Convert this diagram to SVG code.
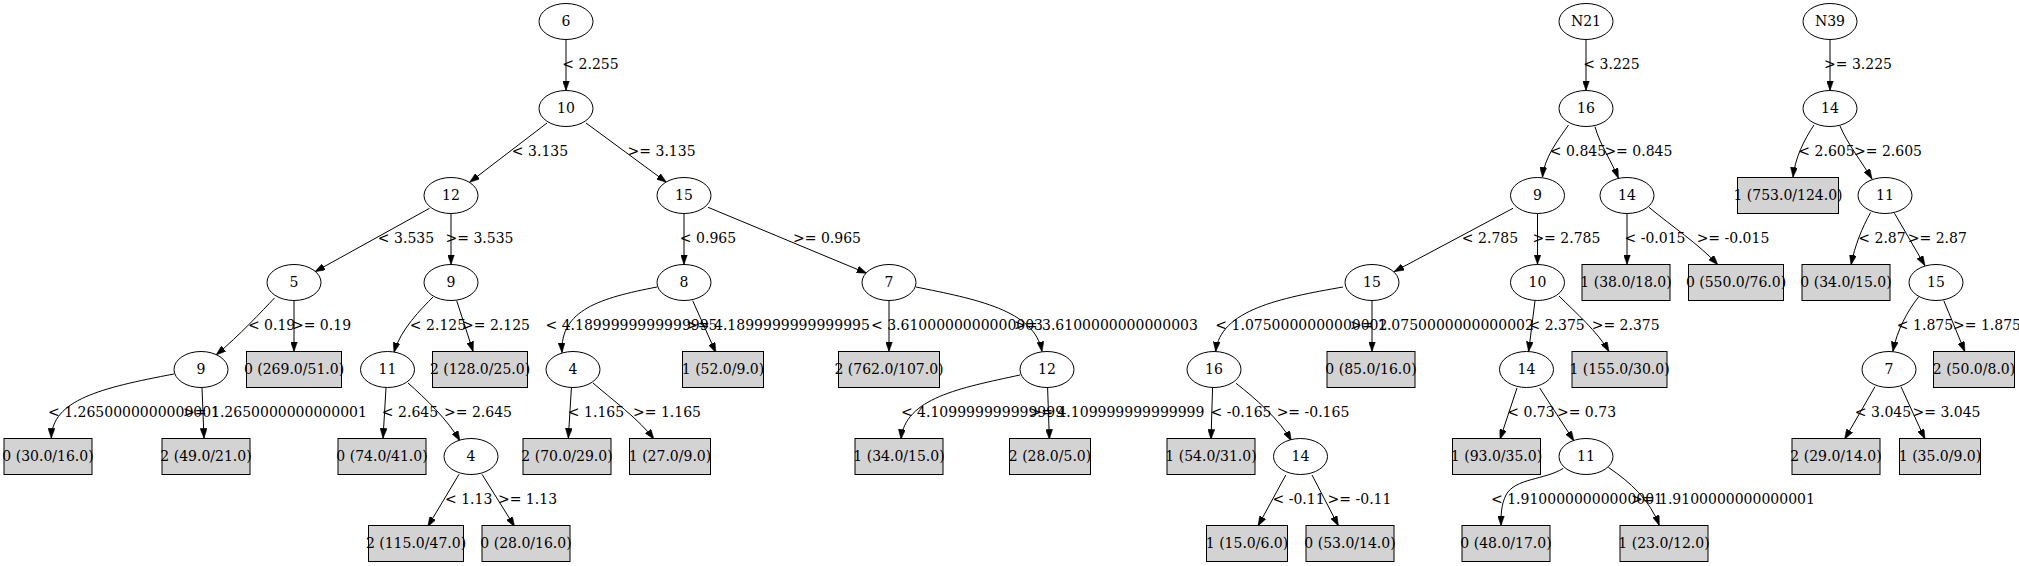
<svg xmlns="http://www.w3.org/2000/svg" width="2019" height="566" viewBox="0 0 2019 566">
<style>
text{font-family:"DejaVu Serif","Liberation Serif",serif;font-size:14px;fill:#000}
.nd text,.lf text{text-anchor:middle}
.nd ellipse{fill:#fff;stroke:#000;stroke-width:1}
.lf rect{fill:#d3d3d3;stroke:#000;stroke-width:1}
#edges path{fill:none;stroke:#000;stroke-width:1;marker-end:url(#ah)}
#labels text{text-anchor:middle}
</style>
<defs>
<marker id="ah" markerUnits="userSpaceOnUse" markerWidth="10" markerHeight="7" refX="10" refY="3.5" orient="auto">
<path d="M0,0 L10,3.5 L0,7 z" fill="#000" stroke="#000" stroke-width="0.5"/>
</marker>
</defs>
<rect width="2019" height="566" fill="#fff"/>
<g id="edges">
<path d="M566,39.5 L566,90.5"/>
<path d="M547,123 L469.6,182.3"/>
<path d="M586,123 L666.5,182.3"/>
<path d="M429.5,208.3 L315,271.7"/>
<path d="M451,213.5 L451,264.5"/>
<path d="M684,213.5 L684,264.5"/>
<path d="M708,207.3 L866.8,273.3"/>
<path d="M274.5,298 C262,311 240,335 216,355"/>
<path d="M294,300.5 L294,351.5"/>
<path d="M433,297 C422,308 400,330 394,352.5"/>
<path d="M456.7,300.7 L473.2,351.7"/>
<path d="M657,287 C600,298 560,310 562,352.7"/>
<path d="M692.7,300.7 L715.9,352.7"/>
<path d="M889,300.5 L889,351.5"/>
<path d="M916,287 C975,299 1035,310 1042,351.7"/>
<path d="M174,374 C100,388 52,400 51.3,438.3"/>
<path d="M202,388 L204,438.3"/>
<path d="M386,388 L383,438.3"/>
<path d="M408,383 C425,398 448,420 460,441"/>
<path d="M571.4,388 L568.3,438.3"/>
<path d="M593,383 C610,398 640,420 654,439.3"/>
<path d="M1020,375 C960,388 905,398 901,439.3"/>
<path d="M1047.6,388 L1049.4,439.3"/>
<path d="M459,474.3 L427.7,526.7"/>
<path d="M482,474.3 L514.7,526.7"/>
<path d="M1586,39.5 L1586,90.5"/>
<path d="M1568.5,125 C1558,140 1544,158 1542.5,177.3"/>
<path d="M1595,126.7 C1600,145 1612,162 1618.4,178.3"/>
<path d="M1513,208.3 L1394,271.7"/>
<path d="M1537.5,213.5 L1537.5,264.5"/>
<path d="M1627,213.5 L1627,264.5"/>
<path d="M1649,207.3 C1670,225 1700,245 1718,265"/>
<path d="M1343,287 C1280,298 1220,310 1215.7,351.7"/>
<path d="M1372,300.5 L1372,351.5"/>
<path d="M1535,300.7 L1528.6,351.7"/>
<path d="M1559,296 C1575,312 1598,332 1609,351.7"/>
<path d="M1212.6,386.7 L1211,439.3"/>
<path d="M1236,383.3 C1255,398 1280,420 1291.4,441"/>
<path d="M1517,388 L1500,439.3"/>
<path d="M1539.7,388 L1574,441"/>
<path d="M1285.8,475 L1258,526"/>
<path d="M1312,475 L1338.5,526"/>
<path d="M1563.3,468.3 C1545,480 1515,478 1506,495 C1501,505 1501,515 1501,525.5"/>
<path d="M1608.3,467.3 C1630,482 1650,500 1659.3,525.5"/>
<path d="M1830,39.5 L1830,90.5"/>
<path d="M1814,125 C1804,140 1795,158 1793,177.3"/>
<path d="M1840,126 C1848,145 1862,162 1872,179"/>
<path d="M1870.6,212.5 C1862,228 1855,245 1851,265"/>
<path d="M1894.5,213.3 L1925,265.7"/>
<path d="M1918.8,296.7 C1908,310 1897,330 1892.8,351.7"/>
<path d="M1943.8,300.7 L1964.9,351.7"/>
<path d="M1875,386.7 L1844.6,439.3"/>
<path d="M1901,386.7 L1925,439.3"/>
</g>
<g id="labels">
<text x="590.5" y="69">&lt; 2.255</text>
<text x="540" y="156">&lt; 3.135</text>
<text x="661.6" y="156">&gt;= 3.135</text>
<text x="406" y="243">&lt; 3.535</text>
<text x="479.5" y="243">&gt;= 3.535</text>
<text x="708" y="243">&lt; 0.965</text>
<text x="827" y="243">&gt;= 0.965</text>
<text x="271.6" y="330">&lt; 0.19</text>
<text x="321.5" y="330">&gt;= 0.19</text>
<text x="438" y="330">&lt; 2.125</text>
<text x="496" y="330">&gt;= 2.125</text>
<text x="631.5" y="330">&lt; 4.1899999999999995</text>
<text x="778" y="330">&gt;= 4.1899999999999995</text>
<text x="957" y="330">&lt; 3.6100000000000003</text>
<text x="1106" y="330">&gt;= 3.6100000000000003</text>
<text x="134" y="417">&lt; 1.2650000000000001</text>
<text x="275" y="417">&gt;= 1.2650000000000001</text>
<text x="410" y="417">&lt; 2.645</text>
<text x="478" y="417">&gt;= 2.645</text>
<text x="596" y="417">&lt; 1.165</text>
<text x="667" y="417">&gt;= 1.165</text>
<text x="982.5" y="417">&lt; 4.109999999999999</text>
<text x="1117" y="417">&gt;= 4.109999999999999</text>
<text x="468.7" y="504">&lt; 1.13</text>
<text x="527.5" y="504">&gt;= 1.13</text>
<text x="1611.5" y="69">&lt; 3.225</text>
<text x="1858" y="69">&gt;= 3.225</text>
<text x="1578" y="156">&lt; 0.845</text>
<text x="1638.4" y="156">&gt;= 0.845</text>
<text x="1826.5" y="156">&lt; 2.605</text>
<text x="1888" y="156">&gt;= 2.605</text>
<text x="1490" y="243">&lt; 2.785</text>
<text x="1566.4" y="243">&gt;= 2.785</text>
<text x="1655" y="243">&lt; -0.015</text>
<text x="1733" y="243">&gt;= -0.015</text>
<text x="1882" y="243">&lt; 2.87</text>
<text x="1937.3" y="243">&gt;= 2.87</text>
<text x="1301.4" y="330">&lt; 1.0750000000000002</text>
<text x="1442" y="330">&gt;= 1.0750000000000002</text>
<text x="1556.6" y="330">&lt; 2.375</text>
<text x="1625.7" y="330">&gt;= 2.375</text>
<text x="1925" y="330">&lt; 1.875</text>
<text x="1987" y="330">&gt;= 1.875</text>
<text x="1241" y="417">&lt; -0.165</text>
<text x="1313" y="417">&gt;= -0.165</text>
<text x="1531" y="417">&lt; 0.73</text>
<text x="1586.5" y="417">&gt;= 0.73</text>
<text x="1883" y="417">&lt; 3.045</text>
<text x="1946.5" y="417">&gt;= 3.045</text>
<text x="1298.6" y="504">&lt; -0.11</text>
<text x="1359.5" y="504">&gt;= -0.11</text>
<text x="1577" y="504">&lt; 1.9100000000000001</text>
<text x="1723" y="504">&gt;= 1.9100000000000001</text>
</g>
<g id="n6" class="nd"><ellipse cx="566" cy="21.5" rx="27" ry="18"/><text x="566" y="26.3">6</text></g>
<g id="n10" class="nd"><ellipse cx="566" cy="108.5" rx="27" ry="18"/><text x="566" y="113.3">10</text></g>
<g id="n12" class="nd"><ellipse cx="451" cy="195.5" rx="27" ry="18"/><text x="451" y="200.3">12</text></g>
<g id="n15" class="nd"><ellipse cx="684" cy="195.5" rx="27" ry="18"/><text x="684" y="200.3">15</text></g>
<g id="n5" class="nd"><ellipse cx="294" cy="282.5" rx="27" ry="18"/><text x="294" y="287.3">5</text></g>
<g id="n9a" class="nd"><ellipse cx="451" cy="282.5" rx="27" ry="18"/><text x="451" y="287.3">9</text></g>
<g id="n8" class="nd"><ellipse cx="684" cy="282.5" rx="27" ry="18"/><text x="684" y="287.3">8</text></g>
<g id="n7" class="nd"><ellipse cx="889" cy="282.5" rx="27" ry="18"/><text x="889" y="287.3">7</text></g>
<g id="n9b" class="nd"><ellipse cx="201" cy="369.5" rx="27" ry="18"/><text x="201" y="374.3">9</text></g>
<g id="l269" class="lf"><rect x="246.5" y="351.5" width="95" height="36"/><text x="294" y="374.3">0 (269.0/51.0)</text></g>
<g id="n11a" class="nd"><ellipse cx="387.5" cy="369.5" rx="27" ry="18"/><text x="387.5" y="374.3">11</text></g>
<g id="l128" class="lf"><rect x="432.5" y="351.5" width="95" height="36"/><text x="480" y="374.3">2 (128.0/25.0)</text></g>
<g id="n4a" class="nd"><ellipse cx="573" cy="369.5" rx="27" ry="18"/><text x="573" y="374.3">4</text></g>
<g id="l52" class="lf"><rect x="682.5" y="351.5" width="81" height="36"/><text x="723" y="374.3">1 (52.0/9.0)</text></g>
<g id="l762" class="lf"><rect x="838.5" y="351.5" width="101" height="36"/><text x="889" y="374.3">2 (762.0/107.0)</text></g>
<g id="n12b" class="nd"><ellipse cx="1047" cy="369.5" rx="27" ry="18"/><text x="1047" y="374.3">12</text></g>
<g id="l30" class="lf"><rect x="4" y="438.5" width="88" height="36"/><text x="48" y="461.3">0 (30.0/16.0)</text></g>
<g id="l49" class="lf"><rect x="162" y="438.5" width="88" height="36"/><text x="206" y="461.3">2 (49.0/21.0)</text></g>
<g id="l74" class="lf"><rect x="338" y="438.5" width="88" height="36"/><text x="382" y="461.3">0 (74.0/41.0)</text></g>
<g id="n4b" class="nd"><ellipse cx="471" cy="456.5" rx="27" ry="18"/><text x="471" y="461.3">4</text></g>
<g id="l70" class="lf"><rect x="523" y="438.5" width="88" height="36"/><text x="567" y="461.3">2 (70.0/29.0)</text></g>
<g id="l27" class="lf"><rect x="629.5" y="438.5" width="81" height="36"/><text x="670" y="461.3">1 (27.0/9.0)</text></g>
<g id="l34" class="lf"><rect x="855" y="438.5" width="88" height="36"/><text x="899" y="461.3">1 (34.0/15.0)</text></g>
<g id="l28" class="lf"><rect x="1009.5" y="438.5" width="81" height="36"/><text x="1050" y="461.3">2 (28.0/5.0)</text></g>
<g id="l115" class="lf"><rect x="368.5" y="525.5" width="95" height="36"/><text x="416" y="548.3">2 (115.0/47.0)</text></g>
<g id="l28b" class="lf"><rect x="482" y="525.5" width="88" height="36"/><text x="526" y="548.3">0 (28.0/16.0)</text></g>
<g id="N21" class="nd"><ellipse cx="1586" cy="21.5" rx="27" ry="18"/><text x="1586" y="26.3">N21</text></g>
<g id="n16" class="nd"><ellipse cx="1586" cy="108.5" rx="27" ry="18"/><text x="1586" y="113.3">16</text></g>
<g id="n9c" class="nd"><ellipse cx="1537.5" cy="195.5" rx="27" ry="18"/><text x="1537.5" y="200.3">9</text></g>
<g id="n14a" class="nd"><ellipse cx="1627" cy="195.5" rx="27" ry="18"/><text x="1627" y="200.3">14</text></g>
<g id="n15b" class="nd"><ellipse cx="1372" cy="282.5" rx="27" ry="18"/><text x="1372" y="287.3">15</text></g>
<g id="n10b" class="nd"><ellipse cx="1537.5" cy="282.5" rx="27" ry="18"/><text x="1537.5" y="287.3">10</text></g>
<g id="l38" class="lf"><rect x="1582" y="264.5" width="88" height="36"/><text x="1626" y="287.3">1 (38.0/18.0)</text></g>
<g id="l550" class="lf"><rect x="1688.5" y="264.5" width="95" height="36"/><text x="1736" y="287.3">0 (550.0/76.0)</text></g>
<g id="n16b" class="nd"><ellipse cx="1214" cy="369.5" rx="27" ry="18"/><text x="1214" y="374.3">16</text></g>
<g id="l85" class="lf"><rect x="1327" y="351.5" width="88" height="36"/><text x="1371" y="374.3">0 (85.0/16.0)</text></g>
<g id="n14b" class="nd"><ellipse cx="1526.5" cy="369.5" rx="27" ry="18"/><text x="1526.5" y="374.3">14</text></g>
<g id="l155" class="lf"><rect x="1572" y="351.5" width="95" height="36"/><text x="1619.5" y="374.3">1 (155.0/30.0)</text></g>
<g id="l54" class="lf"><rect x="1167" y="438.5" width="88" height="36"/><text x="1211" y="461.3">1 (54.0/31.0)</text></g>
<g id="n14c" class="nd"><ellipse cx="1300.5" cy="456.5" rx="27" ry="18"/><text x="1300.5" y="461.3">14</text></g>
<g id="l93" class="lf"><rect x="1452.5" y="438.5" width="88" height="36"/><text x="1496.5" y="461.3">1 (93.0/35.0)</text></g>
<g id="n11b" class="nd"><ellipse cx="1586" cy="456.5" rx="27" ry="18"/><text x="1586" y="461.3">11</text></g>
<g id="l15" class="lf"><rect x="1206.5" y="525.5" width="81" height="36"/><text x="1247" y="548.3">1 (15.0/6.0)</text></g>
<g id="l53" class="lf"><rect x="1306" y="525.5" width="88" height="36"/><text x="1350" y="548.3">0 (53.0/14.0)</text></g>
<g id="l48" class="lf"><rect x="1462" y="525.5" width="88" height="36"/><text x="1506" y="548.3">0 (48.0/17.0)</text></g>
<g id="l23" class="lf"><rect x="1620" y="525.5" width="88" height="36"/><text x="1664" y="548.3">1 (23.0/12.0)</text></g>
<g id="N39" class="nd"><ellipse cx="1830" cy="21.5" rx="27" ry="18"/><text x="1830" y="26.3">N39</text></g>
<g id="n14d" class="nd"><ellipse cx="1830" cy="108.5" rx="27" ry="18"/><text x="1830" y="113.3">14</text></g>
<g id="l753" class="lf"><rect x="1737.5" y="177.5" width="101" height="36"/><text x="1788" y="200.3">1 (753.0/124.0)</text></g>
<g id="n11c" class="nd"><ellipse cx="1885" cy="195.5" rx="27" ry="18"/><text x="1885" y="200.3">11</text></g>
<g id="l34b" class="lf"><rect x="1802" y="264.5" width="88" height="36"/><text x="1846" y="287.3">0 (34.0/15.0)</text></g>
<g id="n15c" class="nd"><ellipse cx="1936" cy="282.5" rx="27" ry="18"/><text x="1936" y="287.3">15</text></g>
<g id="n7b" class="nd"><ellipse cx="1889" cy="369.5" rx="27" ry="18"/><text x="1889" y="374.3">7</text></g>
<g id="l50" class="lf"><rect x="1933.5" y="351.5" width="81" height="36"/><text x="1974" y="374.3">2 (50.0/8.0)</text></g>
<g id="l29" class="lf"><rect x="1792" y="438.5" width="88" height="36"/><text x="1836" y="461.3">2 (29.0/14.0)</text></g>
<g id="l35" class="lf"><rect x="1899.5" y="438.5" width="81" height="36"/><text x="1940" y="461.3">1 (35.0/9.0)</text></g>
</svg>
